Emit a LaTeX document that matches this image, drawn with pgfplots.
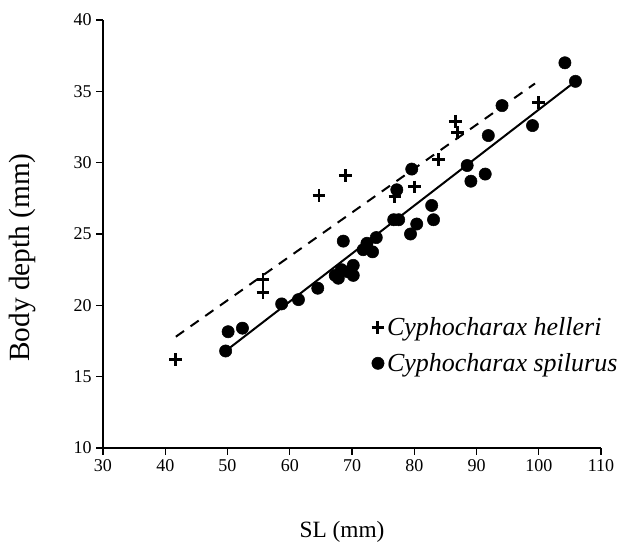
\documentclass[border=0pt]{standalone}
\usepackage{fontspec}
\setmainfont{Liberation Serif}
\usepackage{pgfplots}
\pgfplotsset{compat=1.18}

% Body depth vs SL, two species
\pgfplotstableread{
x y
41.7 16.2
55.7 20.9
55.7 21.8
64.7 27.7
68.9 29.1
76.9 27.6
80.1 28.3
83.9 30.2
86.6 32.9
87.0 32.1
100.0 34.2
}\helleri

\pgfplotstableread{
x y
49.7 16.8
50.1 18.15
52.4 18.4
58.7 20.1
61.4 20.4
64.5 21.2
67.3 22.1
67.8 21.9
68.3 22.5
69.4 22.35
70.2 22.1
70.2 22.8
68.6 24.5
71.8 23.9
72.4 24.35
73.3 23.75
73.9 24.75
76.7 26.0
77.5 26.0
79.4 25.0
80.4 25.7
82.8 27.0
83.1 26.0
77.2 28.1
79.6 29.55
88.5 29.8
89.1 28.7
91.4 29.2
91.9 31.9
94.1 34.0
99.0 32.6
104.2 37.0
105.9 35.7
}\spilurus

\begin{document}
\begin{tikzpicture}
% keep the page at the reference proportions (632 x 546 px, 0.75pt per px)
\useasboundingbox (-77.25pt,-73.5pt) rectangle (396.75pt,336pt);
\begin{axis}[
    at={(0,0)}, anchor=south west,
    scale only axis,
    width=373.5pt, height=321pt,
    xmin=30, xmax=110, ymin=10, ymax=40,
    xtick={30,40,...,110}, ytick={10,15,...,40},
    axis lines=left,
    axis line style={-, line width=1.1pt},
    tick style={line width=1.1pt, black},
    tick align=outside,
    major tick length=5pt,
    /pgf/number format/assume math mode=true,
    ticklabel style={font=\fontsize{13.5}{16}\selectfont},
    xlabel={SL (mm)},
    ylabel={Body depth (mm)},
    xlabel style={at={(axis description cs:0.48,-0.208)}, anchor=base, font=\fontsize{17.5}{20}\selectfont},
    ylabel style={at={(axis description cs:-0.161,0.445)}, anchor=center, font=\fontsize{22}{25}\selectfont},
    legend style={draw=none, fill=none, at={(axis cs:73.1,17.2)}, anchor=west,
        font=\fontsize{19.5}{22}\itshape\selectfont, inner sep=0pt,
        row sep=8pt, cells={anchor=west}},
    legend image code/.code={\draw[mark repeat=2, mark phase=2] plot coordinates {(0pt,0pt) (5pt,0pt) (16pt,0pt)};},
    clip=false,
]
\addplot[only marks, mark=+, mark size=4.8pt, line width=2.2pt, black] table {\helleri};
\addlegendentry{Cyphocharax helleri}
\addplot[only marks, mark=*, mark size=4.6pt, black] table {\spilurus};
\addlegendentry{Cyphocharax spilurus}
% fitted lines
\addplot[black, line width=1.5pt, dash pattern=on 7.5pt off 6pt, forget plot] coordinates {(41.7,17.8) (99.4,35.55)};
\addplot[black, line width=1.5pt, forget plot] coordinates {(49.7,16.8) (105.9,35.7)};
\end{axis}
\end{tikzpicture}
\end{document}
